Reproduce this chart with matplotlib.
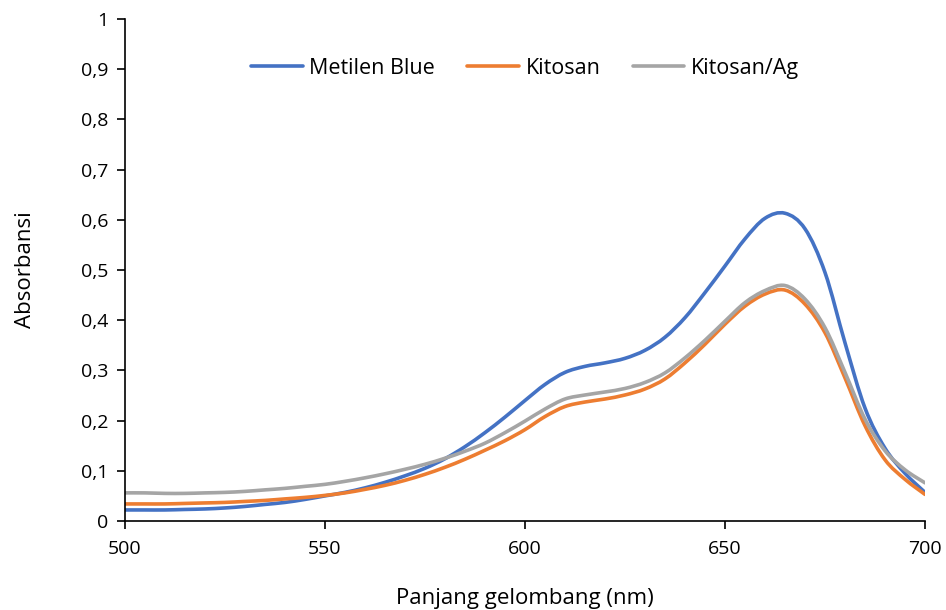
import numpy as np
import matplotlib.pyplot as plt
from matplotlib.path import Path
from matplotlib.patches import PathPatch
from matplotlib.lines import Line2D
from matplotlib.ticker import FuncFormatter, MultipleLocator

plt.rcParams['font.family'] = ['Open Sans', 'DejaVu Sans']

# panjang gelombang tiap 5 nm
wl = np.arange(500, 701, 5)

metilen_blue = [0.022, 0.022, 0.022, 0.023, 0.024, 0.026, 0.029, 0.033, 0.037, 0.043,
                0.050, 0.057, 0.066, 0.077, 0.090, 0.105, 0.124, 0.148, 0.176, 0.207,
                0.240, 0.272, 0.296, 0.308, 0.315, 0.324, 0.340, 0.366, 0.405, 0.455,
                0.508, 0.562, 0.603, 0.613, 0.582, 0.495, 0.355, 0.225, 0.145, 0.095,
                0.057]
kitosan = [0.034, 0.034, 0.034, 0.035, 0.036, 0.037, 0.039, 0.041, 0.044, 0.047,
           0.051, 0.056, 0.063, 0.071, 0.081, 0.093, 0.107, 0.123, 0.141, 0.160,
           0.182, 0.208, 0.228, 0.237, 0.243, 0.251, 0.263, 0.283, 0.315, 0.352,
           0.392, 0.428, 0.452, 0.460, 0.432, 0.375, 0.285, 0.190, 0.122, 0.083,
           0.053]
kitosan_ag = [0.056, 0.056, 0.055, 0.055, 0.056, 0.057, 0.059, 0.062, 0.065, 0.069,
              0.073, 0.079, 0.086, 0.094, 0.103, 0.113, 0.125, 0.139, 0.155, 0.176,
              0.199, 0.223, 0.243, 0.251, 0.257, 0.264, 0.276, 0.295, 0.325, 0.360,
              0.398, 0.435, 0.459, 0.469, 0.442, 0.385, 0.296, 0.203, 0.140, 0.102,
              0.076]

series = [('Metilen Blue', metilen_blue, '#4472C4'),
          ('Kitosan', kitosan, '#ED7D31'),
          ('Kitosan/Ag', kitosan_ag, '#A5A5A5')]


def smooth_path(x, y, t=1 / 6):
    # garis halus: kurva Bezier kubik yang melewati setiap titik data
    x = np.asarray(x, float)
    y = np.asarray(y, float)
    verts = [(x[0], y[0])]
    codes = [Path.MOVETO]
    n = len(x)
    for i in range(n - 1):
        i0 = max(i - 1, 0)
        i3 = min(i + 2, n - 1)
        c1 = (x[i] + (x[i + 1] - x[i0]) * t, y[i] + (y[i + 1] - y[i0]) * t)
        c2 = (x[i + 1] - (x[i3] - x[i]) * t, y[i + 1] - (y[i3] - y[i]) * t)
        verts += [c1, c2, (x[i + 1], y[i + 1])]
        codes += [Path.CURVE4] * 3
    return Path(verts, codes)


fig = plt.figure(figsize=(9.46, 6.10), dpi=100)
ax = fig.add_axes([0.1321, 0.1459, 0.8457, 0.823])

handles = []
for name, vals, col in series:
    ax.add_patch(PathPatch(smooth_path(wl, vals), facecolor='none', edgecolor=col,
                           lw=2.6, capstyle='round', joinstyle='round'))
    handles.append(Line2D([], [], color=col, lw=2.6, solid_capstyle='round', label=name))

ax.set_xlim(500, 700)
ax.set_ylim(0, 1)
ax.xaxis.set_major_locator(MultipleLocator(50))
ax.yaxis.set_major_locator(MultipleLocator(0.1))
ax.yaxis.set_major_formatter(FuncFormatter(lambda v, p: f'{v:.1f}'.rstrip('0').rstrip('.').replace('.', ',')))

for s in ['top', 'right']:
    ax.spines[s].set_visible(False)
for s in ['left', 'bottom']:
    ax.spines[s].set_linewidth(1.2)
ax.tick_params(direction='out', length=6, width=1.2, labelsize=14)
ax.tick_params(axis='x', pad=8)
ax.tick_params(axis='y', pad=6)

ax.set_xlabel('Panjang gelombang (nm)', fontsize=16, labelpad=21)
ax.set_ylabel('Absorbansi', fontsize=16, labelpad=32)

ax.legend(handles=handles, loc='center', bbox_to_anchor=(0.5, 0.902), ncol=3, frameon=False,
          fontsize=15.5, handlelength=2.4, handletextpad=0.3, columnspacing=1.5)

fig.savefig('out.png')
